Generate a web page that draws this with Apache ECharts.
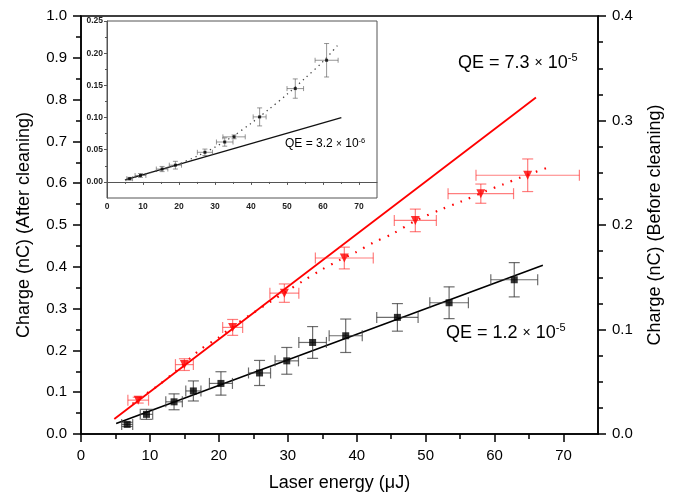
<!DOCTYPE html>
<html>
<head>
<meta charset="utf-8">
<script src="https://cdn.jsdelivr.net/npm/echarts@6/dist/echarts.min.js"></script>
<style>html,body{margin:0;padding:0;background:#fff;}#c{width:675px;height:499px;}</style>
</head>
<body>
<div id="c"></div>
<script>
// ---- Main plot data ----
const redX    = [8.3, 15.0, 22.0, 29.5, 38.2, 48.5, 58.0, 64.8];
const redY    = [0.081, 0.166, 0.255, 0.337, 0.421, 0.511, 0.575, 0.619];
const redXErr = [1.5, 1.3, 1.45, 2.1, 4.2, 3.05, 4.75, 7.5];
const redYErr = [0.007, 0.014, 0.019, 0.022, 0.026, 0.027, 0.023, 0.039];

const redFitX = [4.83, 66.0];
const redFitY = [0.036, 0.805];

const redDotX = [7.5, 8.3, 11.0, 13.6, 17.3, 19.9, 22.0, 25.0, 29.5, 32.3, 34.8, 37.5, 39.8, 42.4, 45.1, 48.5, 52.5, 55.0, 58.7, 61.2, 63.8, 67.5];
const redDotY = [0.072, 0.083, 0.114, 0.148, 0.202, 0.230, 0.257, 0.290, 0.338, 0.367, 0.392, 0.416, 0.434, 0.458, 0.478, 0.510, 0.539, 0.555, 0.581, 0.597, 0.614, 0.636];

// black: before cleaning (right axis, nC)
const blackX    = [6.7, 9.5, 13.5, 16.3, 20.3, 25.9, 29.85, 33.6, 38.4, 45.9, 53.4, 62.85];
const blackY    = [0.0092, 0.0188, 0.0308, 0.0412, 0.0484, 0.0584, 0.0700, 0.0876, 0.0940, 0.1116, 0.1256, 0.1476];
const blackXErr = [0.8, 0.9, 1.2, 1.1, 1.67, 1.6, 1.7, 2.0, 2.4, 3.0, 2.8, 3.4];
const blackYErr = [0.002, 0.0048, 0.0076, 0.0096, 0.0112, 0.012, 0.0128, 0.0152, 0.016, 0.0132, 0.0152, 0.0164];

const blackFitX = [5.1, 67.0];
const blackFitY = [0.0100, 0.1616];

// ---- Inset data ----
const insetX    = [6.3, 9.3, 15.3, 19.0, 27.2, 32.7, 35.3, 42.4, 52.3, 61.0];
const insetY    = [0.005, 0.010, 0.020, 0.026, 0.046, 0.062, 0.070, 0.101, 0.145, 0.189];
const insetXErr = [0.8, 1.5, 1.6, 1.7, 2.1, 2.3, 3.1, 1.8, 2.3, 3.2];
const insetYErr = [0.002, 0.003, 0.004, 0.006, 0.005, 0.0065, 0.003, 0.014, 0.015, 0.026];

const insetFitX = [5.0, 65.1];
const insetFitY = [0.003, 0.100];

const insetDotX = [5, 10, 15, 20, 25, 30, 35, 40, 45, 50, 55, 60, 64.5];
const insetDotY = [0.003, 0.011, 0.019, 0.028, 0.040, 0.054, 0.071, 0.091, 0.113, 0.136, 0.161, 0.187, 0.215];

// ---- Ticks ----
const xTicks      = [0, 10, 20, 30, 40, 50, 60, 70];
const xMinorTicks = [5, 15, 25, 35, 45, 55, 65];
const leftTicks   = [0, 0.1, 0.2, 0.3, 0.4, 0.5, 0.6, 0.7, 0.8, 0.9, 1.0];
const leftMinor   = [0.05, 0.15, 0.25, 0.35, 0.45, 0.55, 0.65, 0.75, 0.85, 0.95];
const rightTicks  = [0, 0.1, 0.2, 0.3, 0.4];
const rightMinor  = [0.025, 0.05, 0.075, 0.125, 0.15, 0.175, 0.225, 0.25, 0.275, 0.325, 0.35, 0.375];
const insetYTicks = [0, 0.05, 0.10, 0.15, 0.20, 0.25];
const insetYMinor = [0.025, 0.075, 0.125, 0.175, 0.225];

const FONT = 'Arial, "Liberation Sans", Helvetica, sans-serif';

function zip(a, b) { return a.map((v, i) => [v, b[i]]); }
function zip4(a, b, c, d) { return a.map((v, i) => [v, b[i], c[i], d[i]]); }

function errRenderer(color, cap, width) {
  return function (params, api) {
    const x = api.value(0), y = api.value(1), dx = api.value(2), dy = api.value(3);
    const l = api.coord([x - dx, y]), r = api.coord([x + dx, y]);
    const b = api.coord([x, y - dy]), t = api.coord([x, y + dy]);
    const st = { stroke: color, lineWidth: width };
    return {
      type: 'group',
      children: [
        { type: 'line', shape: { x1: l[0], y1: l[1], x2: r[0], y2: r[1] }, style: st },
        { type: 'line', shape: { x1: l[0], y1: l[1] - cap, x2: l[0], y2: l[1] + cap }, style: st },
        { type: 'line', shape: { x1: r[0], y1: r[1] - cap, x2: r[0], y2: r[1] + cap }, style: st },
        { type: 'line', shape: { x1: b[0], y1: b[1], x2: t[0], y2: t[1] }, style: st },
        { type: 'line', shape: { x1: b[0] - cap, y1: b[1], x2: b[0] + cap, y2: b[1] }, style: st },
        { type: 'line', shape: { x1: t[0] - cap, y1: t[1], x2: t[0] + cap, y2: t[1] }, style: st }
      ]
    };
  };
}

const mainLabel = { color: '#000', fontSize: 15, fontFamily: FONT };
const insetLabel = { color: '#222', fontSize: 8.5, fontWeight: 'bold', fontFamily: FONT };
const blackLine = { color: '#000', width: 1.5 };
const grayLine = { color: '#555', width: 1 };

function mainX(extra) {
  return Object.assign({
    type: 'value', gridIndex: 0, position: 'bottom', min: 0, max: 75,
    splitLine: { show: false }, axisLine: { show: true, lineStyle: blackLine }
  }, extra);
}

const option = {
  animation: false,
  backgroundColor: '#fff',
  textStyle: { fontFamily: FONT },
  grid: [
    { left: 81, top: 16, width: 517, height: 418, show: true, borderColor: '#000', borderWidth: 1.5, backgroundColor: 'transparent' },
    { left: 107, top: 21, width: 270, height: 177, show: true, borderColor: '#555', borderWidth: 1, backgroundColor: '#fff' }
  ],
  xAxis: [
    mainX({
      name: 'Laser energy (\u03bcJ)', nameLocation: 'middle', nameGap: 40,
      nameTextStyle: { fontSize: 18, color: '#000', fontFamily: FONT },
      axisTick: { show: true, length: 8, customValues: xTicks, lineStyle: blackLine },
      axisLabel: { show: true, margin: 14, customValues: xTicks, ...mainLabel }
    }),
    mainX({
      axisLine: { show: false },
      axisTick: { show: true, length: 5, customValues: xMinorTicks, lineStyle: blackLine },
      axisLabel: { show: false }
    }),
    {
      type: 'value', gridIndex: 1, position: 'bottom', min: 0, max: 75,
      splitLine: { show: false }, axisLine: { show: true, lineStyle: grayLine },
      axisTick: { show: true, length: 3, customValues: xTicks, lineStyle: grayLine },
      axisLabel: { show: true, margin: 4, customValues: xTicks, ...insetLabel }
    },
    {
      type: 'value', gridIndex: 1, position: 'bottom', min: 0, max: 75,
      splitLine: { show: false }, axisLine: { show: false },
      axisTick: { show: true, length: 2, customValues: xMinorTicks, lineStyle: grayLine },
      axisLabel: { show: false }
    }
  ],
  yAxis: [
    {
      type: 'value', gridIndex: 0, position: 'left', min: 0, max: 1,
      name: 'Charge (nC) (After cleaning)', nameLocation: 'middle', nameGap: 48, nameRotate: 90,
      nameTextStyle: { fontSize: 18, color: '#000', fontFamily: FONT },
      splitLine: { show: false }, axisLine: { show: true, lineStyle: blackLine },
      axisTick: { show: true, length: 8, customValues: leftTicks, lineStyle: blackLine },
      axisLabel: { show: true, margin: 14, customValues: leftTicks, formatter: v => v.toFixed(1), ...mainLabel }
    },
    {
      type: 'value', gridIndex: 0, position: 'left', min: 0, max: 1,
      splitLine: { show: false }, axisLine: { show: false },
      axisTick: { show: true, length: 5, customValues: leftMinor, lineStyle: blackLine },
      axisLabel: { show: false }
    },
    {
      type: 'value', gridIndex: 0, position: 'right', min: 0, max: 0.4,
      name: 'Charge (nC) (Before cleaning)', nameLocation: 'middle', nameGap: 48, nameRotate: 90,
      nameTextStyle: { fontSize: 18, color: '#000', fontFamily: FONT },
      splitLine: { show: false }, axisLine: { show: true, lineStyle: blackLine },
      axisTick: { show: true, length: 8, customValues: rightTicks, lineStyle: blackLine },
      axisLabel: { show: true, margin: 14, customValues: rightTicks, formatter: v => v.toFixed(1), ...mainLabel }
    },
    {
      type: 'value', gridIndex: 0, position: 'right', min: 0, max: 0.4,
      splitLine: { show: false }, axisLine: { show: false },
      axisTick: { show: true, length: 5, customValues: rightMinor, lineStyle: blackLine },
      axisLabel: { show: false }
    },
    {
      type: 'value', gridIndex: 1, position: 'left', min: -0.025, max: 0.25,
      splitLine: { show: false }, axisLine: { show: true, lineStyle: grayLine },
      axisTick: { show: true, length: 3, customValues: insetYTicks, lineStyle: grayLine },
      axisLabel: { show: true, margin: 4, customValues: insetYTicks, formatter: v => v.toFixed(2), ...insetLabel }
    },
    {
      type: 'value', gridIndex: 1, position: 'left', min: -0.025, max: 0.25,
      splitLine: { show: false }, axisLine: { show: false },
      axisTick: { show: true, length: 2, customValues: insetYMinor, lineStyle: grayLine },
      axisLabel: { show: false }
    }
  ],
  series: [
    // red (after cleaning, left axis)
    { type: 'line', xAxisIndex: 0, yAxisIndex: 0, data: zip(redFitX, redFitY), symbol: 'none',
      lineStyle: { color: '#ff0000', width: 1.8 }, z: 3 },
    { type: 'line', xAxisIndex: 0, yAxisIndex: 0, data: zip(redDotX, redDotY), symbol: 'none', smooth: 0.3,
      lineStyle: { color: '#ff0000', width: 2.2, type: [1.6, 7.4], cap: 'butt' }, z: 3 },
    { type: 'custom', xAxisIndex: 0, yAxisIndex: 0, data: zip4(redX, redY, redXErr, redYErr),
      renderItem: errRenderer('rgba(255,40,40,0.6)', 5.5, 1.2), encode: { x: 0, y: 1 }, z: 4 },
    { type: 'scatter', xAxisIndex: 0, yAxisIndex: 0, data: zip(redX, redY), symbol: 'triangle', symbolRotate: 180,
      symbolSize: 9, itemStyle: { color: '#ff0000' }, z: 5 },
    // black (before cleaning, right axis)
    { type: 'line', xAxisIndex: 0, yAxisIndex: 2, data: zip(blackFitX, blackFitY), symbol: 'none',
      lineStyle: { color: '#000', width: 1.6 }, z: 3 },
    { type: 'custom', xAxisIndex: 0, yAxisIndex: 2, data: zip4(blackX, blackY, blackXErr, blackYErr),
      renderItem: errRenderer('rgba(60,60,60,0.75)', 5.5, 1.2), encode: { x: 0, y: 1 }, z: 4 },
    { type: 'scatter', xAxisIndex: 0, yAxisIndex: 2, data: zip(blackX, blackY), symbol: 'rect',
      symbolSize: 7, itemStyle: { color: '#000' }, z: 5 },
    // inset
    { type: 'line', xAxisIndex: 2, yAxisIndex: 4, data: zip(insetFitX, insetFitY), symbol: 'none',
      lineStyle: { color: '#111', width: 1.3 }, z: 3 },
    { type: 'line', xAxisIndex: 2, yAxisIndex: 4, data: zip(insetDotX, insetDotY), symbol: 'none', smooth: 0.3,
      lineStyle: { color: '#444', width: 1.3, type: [1.3, 4] }, z: 3 },
    { type: 'custom', xAxisIndex: 2, yAxisIndex: 4, data: zip4(insetX, insetY, insetXErr, insetYErr),
      renderItem: errRenderer('rgba(90,90,90,0.8)', 2.5, 0.8), encode: { x: 0, y: 1 }, z: 4 },
    { type: 'scatter', xAxisIndex: 2, yAxisIndex: 4, data: zip(insetX, insetY), symbol: 'rect',
      symbolSize: 3, itemStyle: { color: '#000' }, z: 5 }
  ],
  graphic: [
    { type: 'text', x: 458, y: 63, z: 10, style: {
      text: '{a|QE = 7.3 }{b|\u00d7}{a| 10}{s|-5}', verticalAlign: 'middle', fill: '#000',
      rich: { a: { fontSize: 18, lineHeight: 22, fontFamily: FONT, color: '#000' },
              b: { fontSize: 14, lineHeight: 22, fontFamily: FONT, color: '#333' },
              s: { fontSize: 11, lineHeight: 22, verticalAlign: 'top', fontFamily: FONT, color: '#000' } } } },
    { type: 'text', x: 446, y: 333, z: 10, style: {
      text: '{a|QE = 1.2 }{b|\u00d7}{a| 10}{s|-5}', verticalAlign: 'middle', fill: '#000',
      rich: { a: { fontSize: 18, lineHeight: 22, fontFamily: FONT, color: '#000' },
              b: { fontSize: 14, lineHeight: 22, fontFamily: FONT, color: '#333' },
              s: { fontSize: 11, lineHeight: 22, verticalAlign: 'top', fontFamily: FONT, color: '#000' } } } },
    { type: 'text', x: 285, y: 144, z: 10, style: {
      text: '{a|QE = 3.2 }{b|\u00d7}{a| 10}{s|-6}', verticalAlign: 'middle', fill: '#000',
      rich: { a: { fontSize: 12, lineHeight: 15, fontFamily: FONT, color: '#000' },
              b: { fontSize: 10, lineHeight: 15, fontFamily: FONT, color: '#333' },
              s: { fontSize: 7.5, lineHeight: 15, verticalAlign: 'top', fontFamily: FONT, color: '#000' } } } }
  ]
};

const chart = echarts.init(document.getElementById('c'), null, { renderer: 'canvas' });
chart.setOption(option);
</script>
</body>
</html>
